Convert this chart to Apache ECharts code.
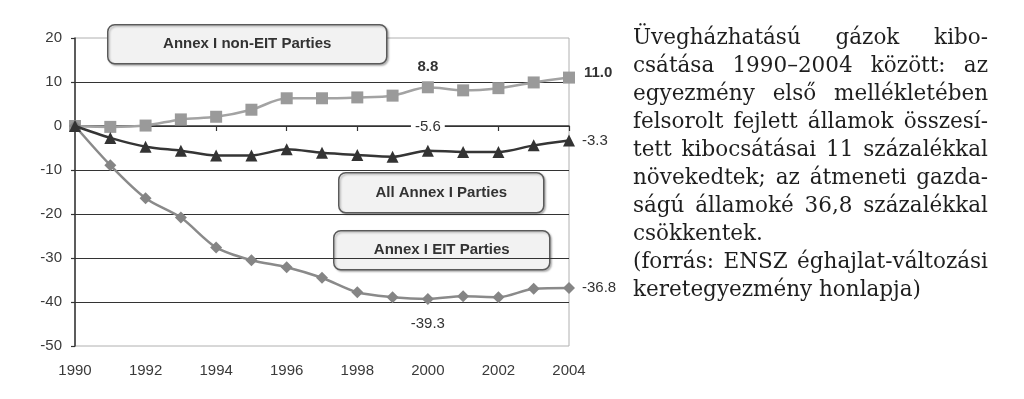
<!DOCTYPE html>
<html>
<head>
<meta charset="utf-8">
<script src="https://cdn.jsdelivr.net/npm/echarts@6/dist/echarts.min.js"></script>
<style>
html,body{margin:0;padding:0;background:#fff;}
#chart{position:absolute;left:0;top:0;width:1024px;height:399px;}
#txt{position:absolute;left:633px;top:23px;width:355px;font-family:"DejaVu Serif",serif;font-size:21.5px;line-height:28px;color:#1e1e1e;}
#txt div{text-align:justify;text-align-last:justify;}
#txt div.l{text-align:left;text-align-last:left;}
</style>
</head>
<body>
<div id="chart"></div>
<div id="txt">
<div>Üvegházhatású gázok kibo-</div>
<div>csátása 1990–2004 között: az</div>
<div>egyezmény első mellékletében</div>
<div>felsorolt fejlett államok összesí-</div>
<div>tett kibocsátásai 11 százalékkal</div>
<div>növekedtek; az átmeneti gazda-</div>
<div>ságú államoké 36,8 százalékkal</div>
<div class="l">csökkentek.</div>
<div>(forrás: ENSZ éghajlat-változási</div>
<div class="l">keretegyezmény honlapja)</div>
</div>
<script>
var years = [1990,1991,1992,1993,1994,1995,1996,1997,1998,1999,2000,2001,2002,2003,2004];
var nonEIT = [0,-0.2,0.1,1.5,2.1,3.7,6.3,6.3,6.5,6.9,8.8,8.1,8.6,9.9,11.0];
var allAnnex = [0,-2.7,-4.7,-5.6,-6.7,-6.7,-5.3,-6.1,-6.6,-7.0,-5.6,-5.9,-5.9,-4.4,-3.3];
var eit = [0,-8.9,-16.4,-20.8,-27.6,-30.5,-32.1,-34.5,-37.8,-38.9,-39.3,-38.7,-38.9,-37.0,-36.8];
var yTicks = [-50,-40,-30,-20,-10,0,10,20];
var xTicks = [1990,1992,1994,1996,1998,2000,2002,2004];
var boxLabels = ['Annex I non-EIT Parties','All Annex I Parties','Annex I EIT Parties'];

var FONT = '"Liberation Sans", Arial, sans-serif';

function build(vals, labelCfg) {
  return years.map(function (y, i) {
    var item = { value: [y, vals[i]] };
    if (labelCfg[y]) item.label = labelCfg[y];
    return item;
  });
}
function fmt(p){ return p.value[1].toFixed(1); }

var baseLabel = { show:true, formatter: fmt, fontFamily: FONT, fontSize: 15, color:'#333' };

var chart = echarts.init(document.getElementById('chart'), null, {renderer:'canvas'});

function box(x, y, w, h, text) {
  return {
    type:'group', left:x, top:y, children:[
      { type:'rect', shape:{x:0,y:0,width:w,height:h,r:7},
        style:{ fill:'#f2f2f2', stroke:'#5a5a5a', lineWidth:1.5, shadowColor:'rgba(0,0,0,0.25)', shadowBlur:2, shadowOffsetX:1.5, shadowOffsetY:1.5 } },
      { type:'text', x:w/2, y:h/2,
        style:{ text:text, fill:'#333', font:'bold 15px ' + FONT, textAlign:'center', textVerticalAlign:'middle' } }
    ]
  };
}

chart.setOption({
  animation:false,
  grid:{ left:75, right:455, top:38, bottom:53, show:true, borderColor:'#b0b0b0', borderWidth:1, backgroundColor:'transparent' },
  xAxis:[
    { type:'value', min:xTicks[0], max:xTicks[xTicks.length-1], interval:2, position:'bottom',
      axisLine:{ show:false, onZero:false }, axisTick:{ show:false }, splitLine:{ show:false },
      axisLabel:{ fontFamily:FONT, fontSize:15, color:'#3a3a3a', margin:17, formatter:function(v){return String(v);} } },
    { type:'value', min:xTicks[0], max:xTicks[xTicks.length-1], interval:2, position:'bottom',
      axisLine:{ show:true, onZero:true, lineStyle:{ color:'#333', width:1.5 } },
      axisTick:{ show:true, inside:false, length:5, lineStyle:{ color:'#333', width:1.2 } },
      axisLabel:{ show:false }, splitLine:{ show:false } }
  ],
  yAxis:{ type:'value', min:yTicks[0], max:yTicks[yTicks.length-1], interval:10,
    axisLine:{ show:true, onZero:false, lineStyle:{ color:'#333', width:1.5 } },
    axisTick:{ show:true, inside:false, length:4, lineStyle:{ color:'#333', width:1.2 } },
    splitLine:{ show:true, showMinLine:false, showMaxLine:false, lineStyle:{ color:'#333', width:1.2 } },
    axisLabel:{ fontFamily:FONT, fontSize:15, color:'#3a3a3a', margin:13 } },
  series:[
    { name:boxLabels[0], type:'line', xAxisIndex:0, smooth:0.3, symbol:'rect', symbolSize:12,
      lineStyle:{ color:'#a3a3a3', width:2.5 }, itemStyle:{ color:'#9a9a9a' }, z:3,
      data: build(nonEIT, {
        2000: Object.assign({}, baseLabel, { position:'top', distance:7, fontWeight:'bold' }),
        2004: Object.assign({}, baseLabel, { position:'right', distance:9, fontWeight:'bold', offset:[0,-5] })
      }) },
    { name:boxLabels[1], type:'line', xAxisIndex:0, smooth:0.3, symbol:'triangle', symbolSize:12,
      lineStyle:{ color:'#353535', width:2.5 }, itemStyle:{ color:'#333' }, z:4,
      data: build(allAnnex, {
        2000: Object.assign({}, baseLabel, { position:'top', distance:9, backgroundColor:'#fff', padding:[1,4] }),
        2004: Object.assign({}, baseLabel, { position:'right', distance:7 })
      }) },
    { name:boxLabels[2], type:'line', xAxisIndex:0, smooth:0.3, symbol:'diamond', symbolSize:12,
      lineStyle:{ color:'#8a8a8a', width:2.5 }, itemStyle:{ color:'#858585' }, z:3,
      data: build(eit, {
        2000: Object.assign({}, baseLabel, { position:'bottom', distance:11 }),
        2004: Object.assign({}, baseLabel, { position:'right', distance:7 })
      }) }
  ],
  graphic:[
    box(107, 24, 279, 39, boxLabels[0]),
    box(338, 172, 205, 40, boxLabels[1]),
    box(333, 230, 216, 39, boxLabels[2])
  ]
});
</script>
</body>
</html>
